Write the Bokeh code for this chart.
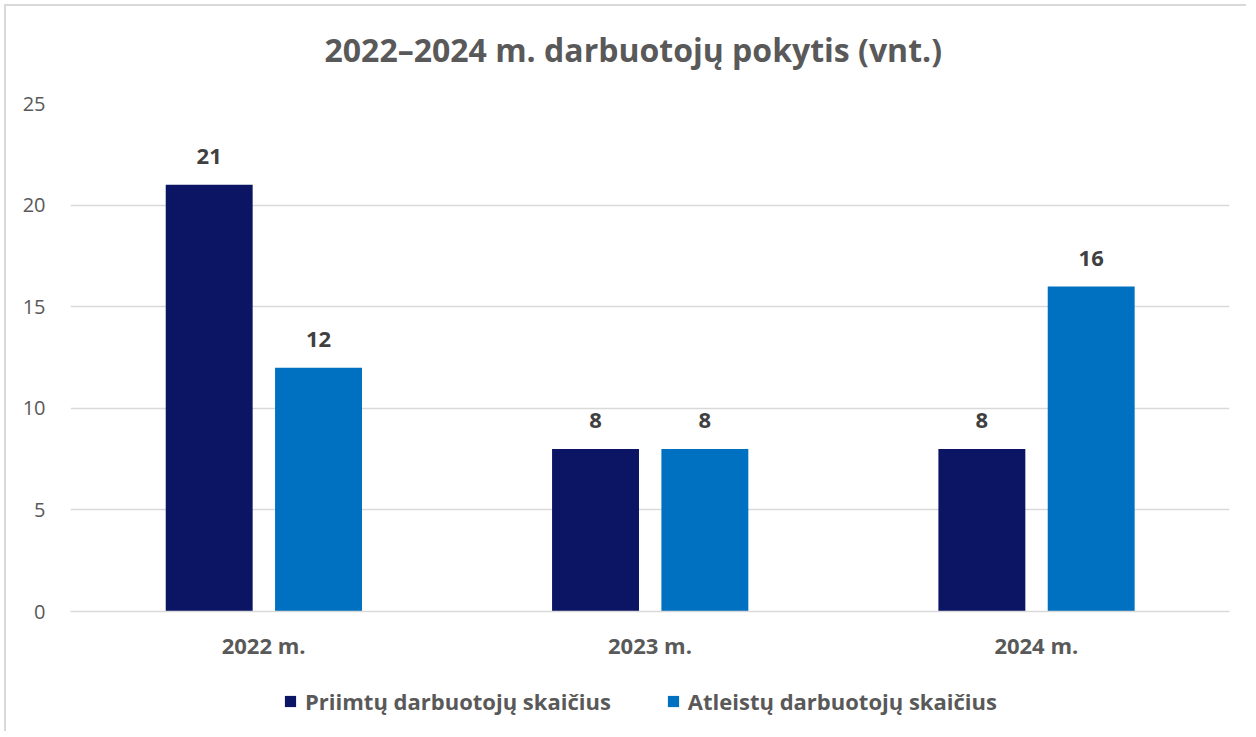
from bokeh.plotting import figure
from bokeh.layouts import column
from bokeh.models import FactorRange, Range1d, ColumnDataSource, Legend, LegendItem, Label
from bokeh.transform import dodge
from bokeh.core.properties import value
from bokeh.embed import file_html
from bokeh.resources import INLINE

categories = ["2022 m.", "2023 m.", "2024 m."]
priimtu = [21, 8, 8]
atleistu = [12, 8, 16]
series_names = ["Priimtų darbuotojų skaičius", "Atleistų darbuotojų skaičius"]
title_text = "2022–2024 m. darbuotojų pokytis (vnt.)"

FONT = "Open Sans"
DARK = "#0C1464"
BLUE = "#0070C0"
GREY = "#595959"
FW = 1159
BL, BR = 64, 17

# ---- title strip ----
pt = figure(frame_width=FW, frame_height=80, x_range=Range1d(0, FW), y_range=Range1d(0, 80),
            min_border_left=BL, min_border_right=BR, min_border_top=0, min_border_bottom=0,
            x_axis_location=None, y_axis_location=None,
            toolbar_location=None, output_backend="svg")
pt.outline_line_color = None
pt.grid.visible = False
pt.add_layout(Label(x=254, y=37, text=title_text, text_font=FONT, text_font_size="32px",
                    text_font_style="bold", text_color=GREY,
                    text_align="left", text_baseline="middle"))

# ---- main chart ----
src = ColumnDataSource(dict(
    cat=categories,
    a=priimtu,
    b=atleistu,
    la=[str(v) for v in priimtu],
    lb=[str(v) for v in atleistu],
))

p = figure(x_range=FactorRange(*categories), y_range=Range1d(0, 25),
           frame_width=FW, frame_height=508, output_backend="svg", toolbar_location=None,
           min_border_left=BL, min_border_right=BR, min_border_top=17, min_border_bottom=60)

r1 = p.vbar(x=dodge("cat", -0.141, range=p.x_range), top="a", width=0.225, source=src,
            fill_color=DARK, line_color=None)
r2 = p.vbar(x=dodge("cat", 0.142, range=p.x_range), top="b", width=0.225, source=src,
            fill_color=BLUE, line_color=None)

p.text(x=dodge("cat", -0.141, range=p.x_range), y="a", text="la", source=src,
       text_align="center", text_baseline="middle", y_offset=-28,
       text_font=value(FONT), text_font_size="22px", text_font_style="bold",
       text_color="#404040")
p.text(x=dodge("cat", 0.142, range=p.x_range), y="b", text="lb", source=src,
       text_align="center", text_baseline="middle", y_offset=-28,
       text_font=value(FONT), text_font_size="22px", text_font_style="bold",
       text_color="#404040")

p.outline_line_color = None
p.xgrid.grid_line_color = None
p.ygrid.grid_line_color = "#D9D9D9"
p.ygrid.grid_line_width = 1.3

p.yaxis.ticker = [0, 5, 10, 15, 20, 25]
p.yaxis.axis_line_color = None
p.yaxis.major_tick_line_color = None
p.yaxis.minor_tick_line_color = None
p.yaxis.major_tick_out = 0
p.yaxis.minor_tick_out = 0
p.yaxis.major_label_text_font = FONT
p.yaxis.major_label_text_font_size = "20px"
p.yaxis.major_label_text_color = GREY
p.yaxis.major_label_standoff = 25

p.xaxis.axis_line_color = "#D9D9D9"
p.xaxis.axis_line_width = 1.3
p.xaxis.major_tick_line_color = None
p.xaxis.minor_tick_line_color = None
p.xaxis.major_tick_out = 0
p.xaxis.minor_tick_out = 0
p.xaxis.major_label_text_font = FONT
p.xaxis.major_label_text_font_size = "22px"
p.xaxis.major_label_text_font_style = "bold"
p.xaxis.major_label_text_color = GREY
p.xaxis.major_label_standoff = 18

# ---- legend strip ----
pl = figure(frame_width=FW, frame_height=60, x_range=Range1d(0, 1), y_range=Range1d(0, 1),
            min_border_left=BL, min_border_right=BR, min_border_top=0, min_border_bottom=0,
            x_axis_location=None, y_axis_location=None,
            toolbar_location=None, output_backend="svg")
pl.outline_line_color = None
pl.grid.visible = False
d1 = pl.vbar(x=[0.5], top=[0], width=0.01, fill_color=DARK, line_color=None)
d2 = pl.vbar(x=[0.5], top=[0], width=0.01, fill_color=BLUE, line_color=None)
legend = Legend(items=[LegendItem(label=series_names[0], renderers=[d1]),
                       LegendItem(label=series_names[1], renderers=[d2])],
                orientation="horizontal", location=(213, 15))
legend.label_text_font = FONT
legend.label_text_font_size = "22px"
legend.label_text_font_style = "bold"
legend.label_text_color = GREY
legend.glyph_width = 14
legend.glyph_height = 14
legend.label_standoff = 8
legend.spacing = 55
legend.padding = 0
legend.margin = 0
legend.border_line_color = None
legend.background_fill_alpha = 0
pl.add_layout(legend, "center")

layout = column(pt, p, pl, spacing=0)
layout.styles = {"border-left": "2px solid #D9D9D9", "border-top": "2px solid #D9D9D9",
                 "margin-left": "4px", "margin-top": "4px"}

open("out.html", "w").write(file_html(layout, INLINE))
